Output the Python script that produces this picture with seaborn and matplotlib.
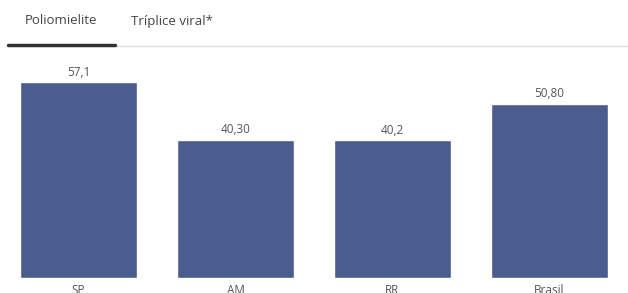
import matplotlib
matplotlib.use("Agg")
import matplotlib.pyplot as plt
import seaborn as sns
import pandas as pd

regioes = ["SP", "AM", "RR", "Brasil"]
cobertura = [57.1, 40.3, 40.2, 50.8]
rotulos = ["57,1", "40,30", "40,2", "50,80"]
abas = ["Poliomielite", "Tríplice viral*"]

df = pd.DataFrame({"regiao": regioes, "cobertura": cobertura})

sns.set_theme(style="white")
plt.rcParams["font.family"] = ["Open Sans", "DejaVu Sans"]

fig = plt.figure(figsize=(6.28, 2.93), dpi=100)
ax = fig.add_axes([0.0, 0.0512, 1.0, 0.703])

sns.barplot(data=df, x="regiao", y="cobertura", color="#4b5d8f",
            width=0.74, saturation=1, ax=ax)
for i, (v, t) in enumerate(zip(cobertura, rotulos)):
    ax.text(i, v + 1.0, t, ha="center", va="bottom", fontsize=8.5, color="#555555")

ax.set_xlim(-0.5, 3.5)
ax.set_ylim(0, 60)
ax.set_xlabel("")
ax.set_ylabel("")
ax.set_yticks([])
ax.tick_params(axis="x", length=0, pad=4, labelsize=8.5, labelcolor="#555555")
sns.despine(ax=ax, left=True, bottom=True)

# abas
fig.text(25 / 628, 1 - 21 / 293, abas[0], fontsize=9.5, color="#444444", va="center")
fig.text(131 / 628, 1 - 21 / 293, abas[1], fontsize=9.5, color="#444444", va="center")
fig.add_artist(plt.Line2D([115 / 628, 1], [1 - 46 / 293] * 2, color="#dddddd", lw=1))
fig.add_artist(plt.Line2D([8 / 628, 115 / 628], [1 - 45 / 293] * 2, color="#333333", lw=2.5))

fig.savefig("out.png", dpi=100)
